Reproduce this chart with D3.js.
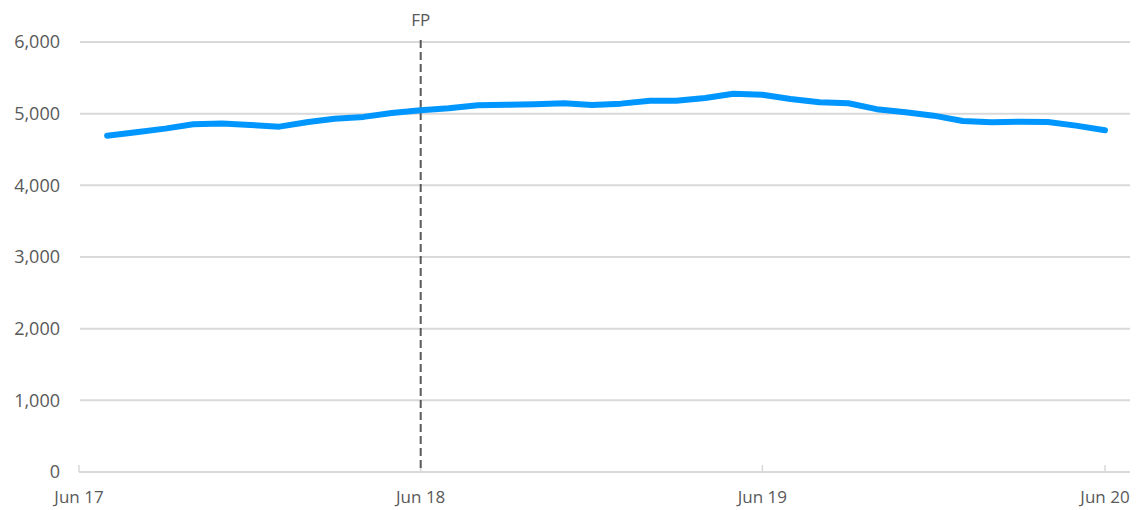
<!DOCTYPE html>
<html>
<head>
<meta charset="utf-8">
<script src="https://cdn.jsdelivr.net/npm/d3@7"></script>
<style>
	body { margin: 0; background: #fff; }
	text { font-family: "Open Sans", sans-serif; fill: #595959; }
</style>
</head>
<body>
<script>
// monthly values, Jul 17 .. Jun 20
var months = d3.timeMonth.range(new Date(2017, 6, 1), new Date(2020, 6, 1));
var values = [4693, 4742, 4791, 4852, 4862, 4842, 4819, 4884, 4930, 4955, 5010, 5048,
	5075, 5117, 5124, 5131, 5147, 5121, 5140, 5181, 5181, 5219, 5279, 5265,
	5205, 5159, 5145, 5063, 5020, 4972, 4898, 4880, 4888, 4884, 4833, 4768];
var yTicks = [0, 1000, 2000, 3000, 4000, 5000, 6000];
var xTicks = [new Date(2017, 5, 1), new Date(2018, 5, 1), new Date(2019, 5, 1), new Date(2020, 5, 1)];
var markerDate = new Date(2018, 5, 1);
var markerLabel = "FP";

var w = 1137, h = 510;
var svg = d3.select("body").append("svg")
	.attr("width", w)
	.attr("height", h);

var x = d3.scaleTime()
	.domain([xTicks[0], xTicks[xTicks.length - 1]])
	.range([79, 1105]);
var y = d3.scaleLinear()
	.domain([0, 6000])
	.range([472, 42]);

// gridlines
svg.selectAll("line.grid")
	.data(yTicks.slice(1))
	.enter()
	.append("line")
	.attr("class", "grid")
	.attr("x1", 80)
	.attr("x2", 1130)
	.attr("y1", function(d) { return y(d); })
	.attr("y2", function(d) { return y(d); })
	.attr("stroke", "#d9d9d9")
	.attr("stroke-width", 2);

// y labels
svg.selectAll("text.ylab")
	.data(yTicks)
	.enter()
	.append("text")
	.attr("class", "ylab")
	.attr("x", 60)
	.attr("y", function(d) { return y(d); })
	.attr("dy", "0.35em")
	.attr("text-anchor", "end")
	.attr("font-size", "18px")
	.text(d3.format(","));

// x axis line and ticks
svg.append("line")
	.attr("x1", 79)
	.attr("x2", 1130)
	.attr("y1", y(0))
	.attr("y2", y(0))
	.attr("stroke", "#d9d9d9")
	.attr("stroke-width", 2);

svg.selectAll("line.xtick")
	.data(xTicks)
	.enter()
	.append("line")
	.attr("class", "xtick")
	.attr("x1", function(d) { return x(d); })
	.attr("x2", function(d) { return x(d); })
	.attr("y1", y(0) - 7)
	.attr("y2", y(0))
	.attr("stroke", "#d9d9d9")
	.attr("stroke-width", 1.5);

svg.selectAll("text.xlab")
	.data(xTicks)
	.enter()
	.append("text")
	.attr("class", "xlab")
	.attr("x", function(d) { return x(d); })
	.attr("y", 503)
	.attr("text-anchor", "middle")
	.attr("font-size", "17px")
	.text(d3.timeFormat("%b %y"));

// FP marker
svg.append("line")
	.attr("x1", x(markerDate))
	.attr("x2", x(markerDate))
	.attr("y1", 40)
	.attr("y2", y(0))
	.attr("stroke", "#595959")
	.attr("stroke-width", 2)
	.attr("stroke-dasharray", "8,4");

svg.append("text")
	.attr("x", x(markerDate))
	.attr("y", 26)
	.attr("text-anchor", "middle")
	.attr("font-size", "17px")
	.text(markerLabel);

// series line
var line = d3.line()
	.x(function(d, i) { return x(months[i]); })
	.y(function(d) { return y(d); });

svg.append("path")
	.datum(values)
	.attr("d", line)
	.attr("fill", "none")
	.attr("stroke", "#0096ff")
	.attr("stroke-width", 6)
	.attr("stroke-linejoin", "round")
	.attr("stroke-linecap", "round");
</script>
</body>
</html>
